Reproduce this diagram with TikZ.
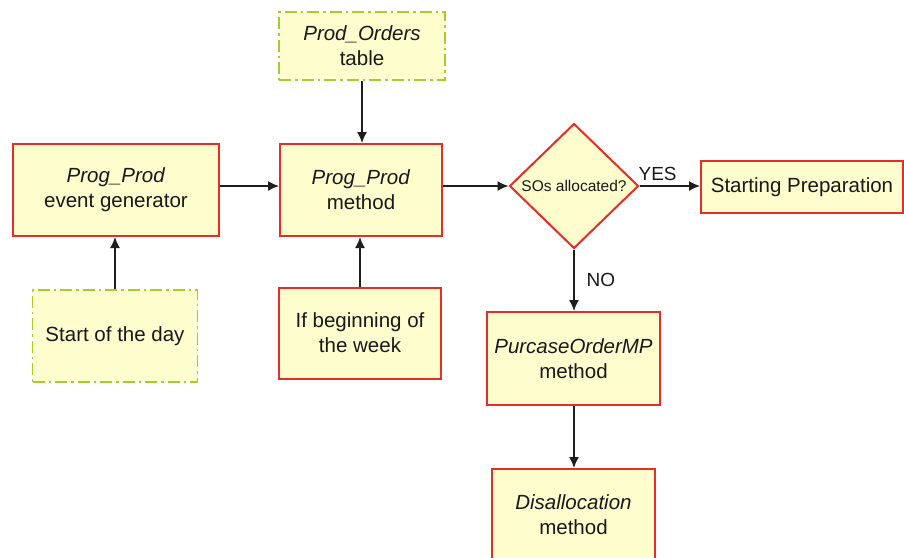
\documentclass[tikz,border=0pt]{standalone}
\usepackage{fontspec}
\setmainfont{Liberation Sans}
\usetikzlibrary{shapes.geometric,arrows.meta}
\definecolor{boxfill}{RGB}{253,253,206}
\definecolor{boxred}{RGB}{230,45,40}
\definecolor{boxgreen}{RGB}{165,205,45}
\definecolor{lineclr}{RGB}{30,30,30}
\definecolor{txt}{RGB}{25,25,25}
\tikzset{
  base/.style={fill=boxfill, inner sep=0pt, align=center, text=txt, font=\fontsize{20.5}{25}\selectfont},
  redbox/.style={base, draw=boxred, line width=2pt},
  greenbox/.style={base, draw=boxgreen, line width=1.8pt, dash pattern=on 12pt off 4pt on 2.5pt off 4pt},
  conn/.style={draw=lineclr, line width=1.4pt, -{Latex[length=11pt,width=10pt]}},
  lbl/.style={font=\fontsize{19}{23}\selectfont, inner sep=0pt, text=txt}
}
\begin{document}
\begin{tikzpicture}[x=1pt,y=-1pt]
\useasboundingbox (0,0) rectangle (904,557);
\node[greenbox, minimum width=166pt, minimum height=68pt] (orders) at (362,46) {\textit{Prod\_Orders}\\table};
\node[redbox, minimum width=206pt, minimum height=92pt] (gen) at (116,190) {\textit{Prog\_Prod}\\event generator};
\node[redbox, minimum width=162pt, minimum height=92pt] (meth) at (361,190) {\textit{Prog\_Prod}\\method};
\node[greenbox, minimum width=165pt, minimum height=92pt] (start) at (115,336) {Start of the day};
\node[redbox, minimum width=162pt, minimum height=91pt] (week) at (360,333) {If beginning of\\the week};
\node[diamond, draw=boxred, fill=boxfill, line width=2pt, inner sep=0pt, minimum width=129pt, minimum height=125pt] (dec) at (574,186) {};
\node[font=\fontsize{15.5}{18}\selectfont, inner sep=0pt, text=txt] (dectext) at (dec.center) {SOs allocated?};
\node[redbox, minimum width=202pt, minimum height=52pt] (prep) at (802,187) {Starting Preparation};
\node[redbox, minimum width=173pt, minimum height=93pt] (po) at (573.5,358.5) {\textit{PurcaseOrderMP}\\method};
\node[redbox, minimum width=163pt, minimum height=92pt] (dis) at (573.5,515) {\textit{Disallocation}\\method};
\draw[conn] (orders.south) -- (orders.south |- meth.north);
\draw[conn] (start.north) -- (start.north |- gen.south);
\draw[conn] (week.north) -- (week.north |- meth.south);
\draw[conn] (gen.east |- 0,186) -- (meth.west |- 0,186);
\draw[conn] (meth.east |- 0,186) -- (dec.west);
\draw[conn] (dec.east) -- (prep.west |- dec.east) node[lbl, pos=0.3, above=5pt] (yes) {YES};
\draw[conn] (dec.south) -- (dec.south |- po.north) node[lbl, pos=0.5, right=12pt] (no) {NO};
\draw[conn] (po.south -| dec.south) -- (dec.south |- dis.north);
\end{tikzpicture}
\end{document}
